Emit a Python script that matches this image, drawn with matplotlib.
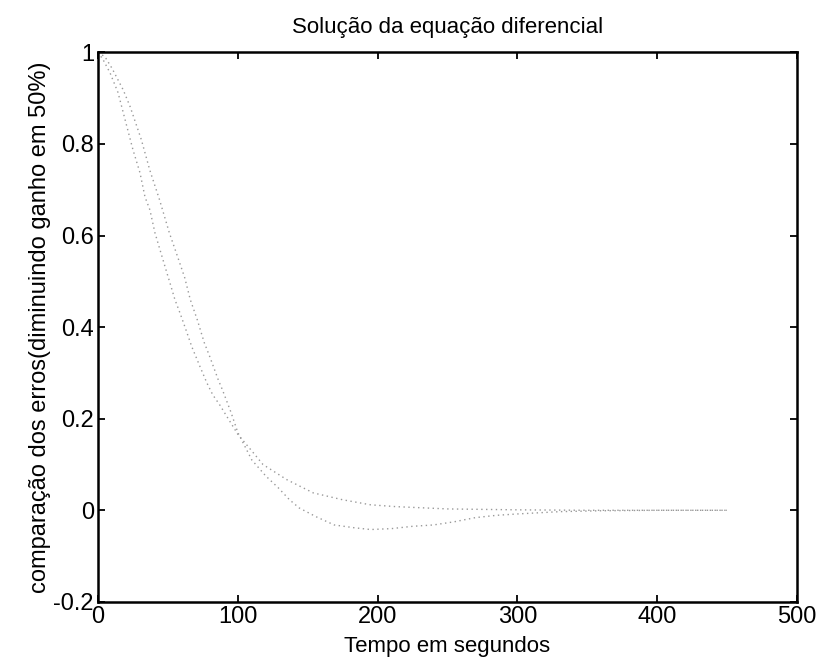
import matplotlib.pyplot as plt

plt.rcParams['font.family'] = ['Liberation Sans', 'DejaVu Sans']

# curve that decays without crossing zero
t_a = [0, 3.6, 8.6, 14.3, 20.7, 25, 30, 33.6, 37.1, 40.7, 44.3, 49.3, 51.4, 55,
       58.6, 62.1, 67.1, 72.9, 77.9, 82.1, 87.1, 100, 111, 118, 135, 154, 175,
       195, 213, 250, 300, 350, 400, 450]
e_a = [1, 0.984, 0.955, 0.912, 0.837, 0.787, 0.737, 0.684, 0.656, 0.606, 0.569,
       0.518, 0.497, 0.46, 0.431, 0.401, 0.357, 0.314, 0.278, 0.252, 0.23, 0.166,
       0.126, 0.1, 0.067, 0.038, 0.023, 0.012, 0.008, 0.003, 0.001, 0, 0, 0]

# curve with undershoot
t_b = [0, 5, 10, 18, 23, 31, 37, 44, 51, 57, 62, 66, 71, 76, 80, 86, 89, 95,
       100, 110, 120, 129, 137, 144, 156, 169, 183, 195, 210, 225, 240, 255,
       270, 285, 300, 330, 360, 400, 450]
e_b = [1, 0.99, 0.965, 0.918, 0.881, 0.809, 0.743, 0.678, 0.606, 0.553, 0.508,
       0.46, 0.416, 0.366, 0.335, 0.285, 0.263, 0.215, 0.17, 0.11, 0.075, 0.049,
       0.023, 0.005, -0.014, -0.032, -0.038, -0.042, -0.04, -0.035, -0.032,
       -0.025, -0.016, -0.011, -0.008, -0.003, -0.001, 0, 0]

fig = plt.figure(figsize=(8.24, 6.71), dpi=100)
ax = fig.add_axes([0.119, 0.103, 0.848, 0.819])

ax.plot(t_a, e_a, color='#999999', lw=1.0, ls=(0, (1, 2.5)))
ax.plot(t_b, e_b, color='#999999', lw=1.0, ls=(0, (1, 2.5)))

ax.set_xlim(0, 500)
ax.set_ylim(-0.2, 1)
ax.set_xticks([0, 100, 200, 300, 400, 500])
ax.set_yticks([-0.2, 0, 0.2, 0.4, 0.6, 0.8, 1])
ax.set_yticklabels(['-0.2', '0', '0.2', '0.4', '0.6', '0.8', '1'])
ax.tick_params(direction='in', top=True, right=True, length=5, width=1.3,
               labelsize=17, pad=3)
for s in ax.spines.values():
    s.set_linewidth(1.8)

ax.set_title('Solução da equação diferencial', fontsize=16, pad=14)
ax.set_xlabel('Tempo em segundos', fontsize=16, labelpad=6)
ax.set_ylabel('comparação dos erros(diminuindo ganho em 50%)', fontsize=17,
              labelpad=2)

fig.savefig('out.png', dpi=100)
